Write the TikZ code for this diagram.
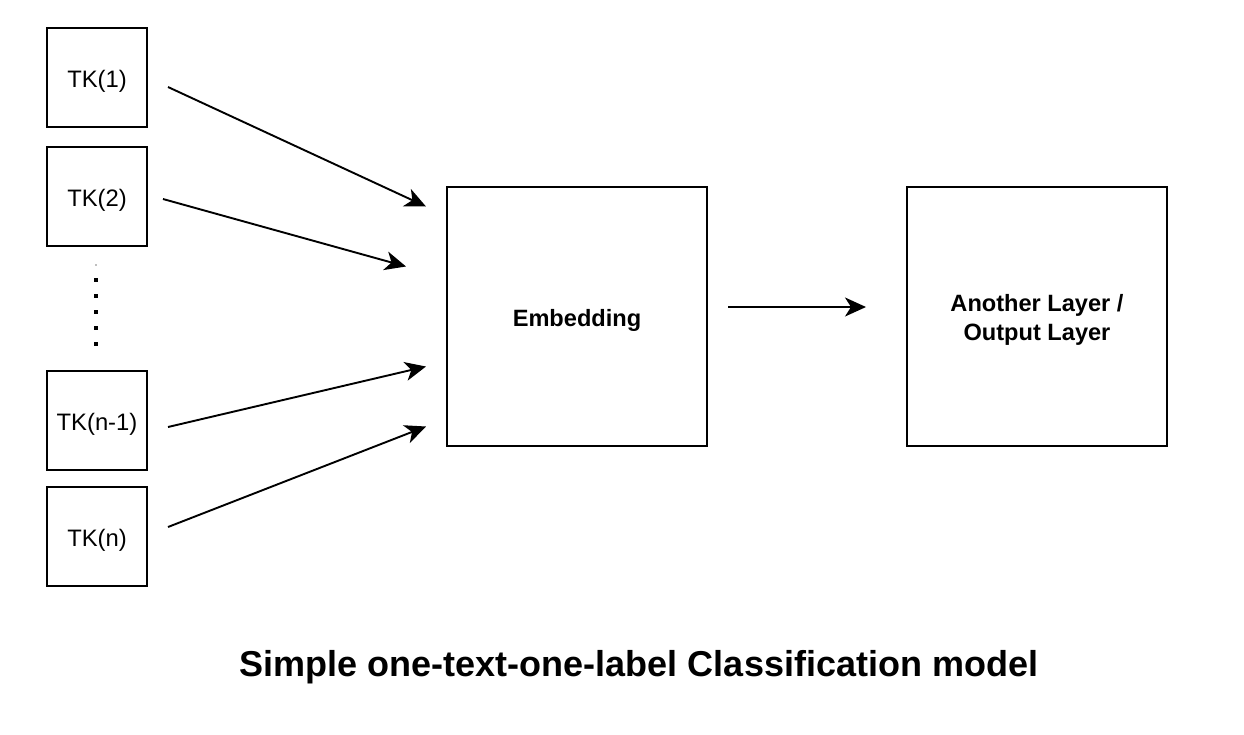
\documentclass[tikz,border=0pt]{standalone}
\usepackage{fontspec}
\setmainfont{Liberation Sans}
\usetikzlibrary{arrows.meta,calc}
\begin{document}
\begin{tikzpicture}[x=1pt,y=-1pt,
  tkbox/.style={draw=black,line width=2pt,minimum width=100pt,minimum height=99pt,inner sep=0pt,
    text height=20pt,text depth=0pt,font=\fontsize{23.8}{28}\selectfont},
  bigbox/.style={draw=black,line width=2pt,minimum width=260pt,minimum height=259pt,inner sep=0pt},
  bigtext/.style={align=center,inner sep=0pt,font=\fontsize{23.6}{28.3}\selectfont\bfseries},
  conn/.style={line width=1.9pt,-{Stealth[length=21pt,width=19pt,inset=6pt]}},
  dotsq/.style={fill=black,minimum size=3.4pt,inner sep=0pt},
]
\useasboundingbox (0,0) rectangle (1244,734);
\fill[white] (0,0) rectangle (1244,734);

\node[tkbox] (tk1) at (97,77) {TK(1)};
\node[tkbox] (tk2) at (97,196.5) {TK(2)};
\node[tkbox] (tkn1) at (97,420.5) {TK(n-1)};
\node[tkbox] (tkn) at (97,536.5) {TK(n)};

\node[dotsq,fill=black!25,minimum size=2pt] (d0) at (96,265) {};
\node[dotsq] (d1) at (96,280) {};
\node[dotsq] (d2) at (96,296) {};
\node[dotsq] (d3) at (96,312) {};
\node[dotsq] (d4) at (96,328) {};
\node[dotsq] (d5) at (96,344) {};

\node[bigbox,bigtext,text height=20pt,text depth=0pt] (emb) at (577,316.5) {Embedding};
\node[bigbox] (out) at (1037,316.5) {};
\node[bigtext] (outtxt) at ($(out.center)+(0,3.5)$) {Another Layer /\\Output Layer};

\coordinate (s1) at ($(tk1.east)+(20,10)$);
\coordinate (e1) at ($(emb.west)+(-20,-110)$);
\coordinate (s2) at ($(tk2.east)+(15,2.5)$);
\coordinate (e2) at ($(emb.west)+(-40,-50)$);
\coordinate (s3) at ($(tkn1.east)+(20,6.5)$);
\coordinate (e3) at ($(emb.west)+(-20,50)$);
\coordinate (s4) at ($(tkn.east)+(20,-9.5)$);
\coordinate (e4) at ($(emb.west)+(-20,110)$);
\coordinate (s5) at ($(emb.east)+(20,-9.5)$);
\coordinate (e5) at ($(out.west)+(-40,-9.5)$);

\draw[conn] (s1) -- (e1);
\draw[conn] (s2) -- (e2);
\draw[conn] (s3) -- (e3);
\draw[conn] (s4) -- (e4);
\draw[conn] (s5) -- (e5);

\node[font=\fontsize{36}{40}\selectfont\bfseries] (title) at (639,667) {Simple one-text-one-label Classification model};
\end{tikzpicture}
\end{document}
